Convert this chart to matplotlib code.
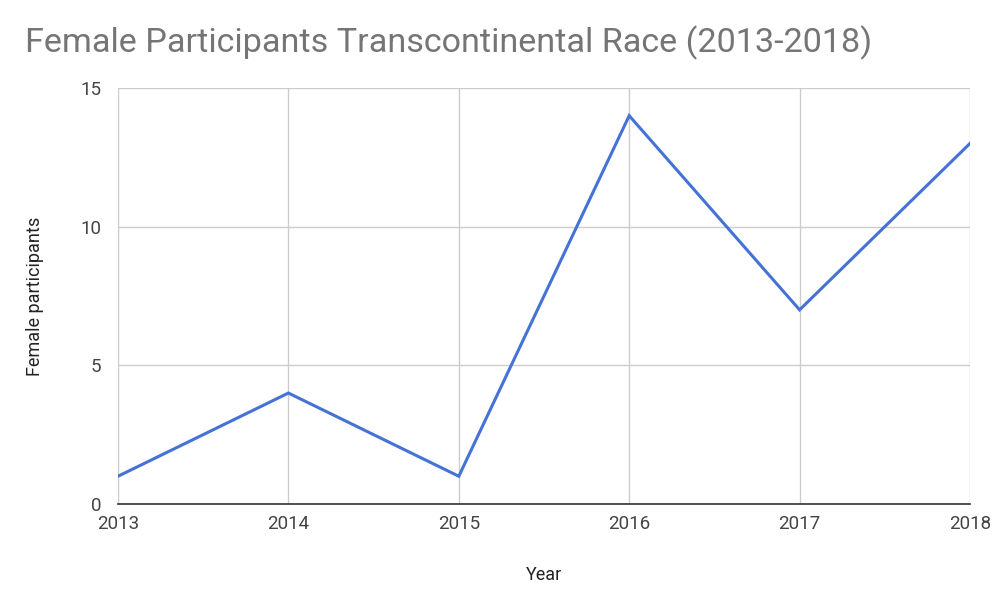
import matplotlib
matplotlib.use("Agg")
import matplotlib.pyplot as plt

years = [2013, 2014, 2015, 2016, 2017, 2018]
participants = [1, 4, 1, 14, 7, 13]
y_ticks = [0, 5, 10, 15]

plt.rcParams["font.family"] = ["Roboto", "DejaVu Sans"]

fig = plt.figure(figsize=(10, 6.1), dpi=100)
ax = fig.add_axes([0.118, 0.1738, 0.852, 0.682])

ax.plot(years, participants, color="#4472d6", linewidth=2.2, solid_joinstyle="miter", zorder=3)

ax.set_xlim(2013, 2018)
ax.set_ylim(0, 15)
ax.set_xticks(years)
ax.set_yticks(y_ticks)
ax.grid(True, color="#cccccc", linewidth=1)
for s in ["top", "right", "left"]:
    ax.spines[s].set_visible(False)
ax.spines["bottom"].set_color("#333333")
ax.spines["bottom"].set_linewidth(1.2)
ax.tick_params(length=0, labelsize=13.5, labelcolor="#444444", pad=8)
ax.tick_params(axis="y", pad=12)

ax.set_xlabel("Year", fontsize=13, color="#222222", labelpad=24)
ax.set_ylabel("Female participants", fontsize=13, color="#222222", labelpad=26)

fig.text(0.025, 0.93, "Female Participants Transcontinental Race (2013-2018)",
         fontsize=24.6, color="#757575", va="center", ha="left")

fig.savefig("out.png", dpi=100)
